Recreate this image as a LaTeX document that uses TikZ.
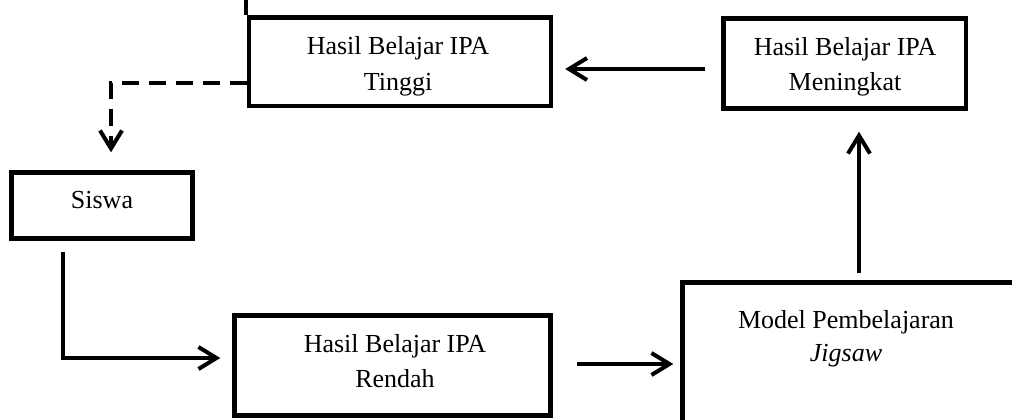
\documentclass[tikz,border=0pt]{standalone}
\usepackage{fontspec}
\setmainfont{Liberation Serif}
\usetikzlibrary{arrows.meta,calc}
\begin{document}
\begin{tikzpicture}[x=0.5pt,y=-0.5pt,
  box/.style={draw, line width=2.2pt, rectangle, inner sep=0pt},
  arr/.style={line width=2pt, -{Straight Barb[length=9pt,width=11pt]}},
  dasharr/.style={arr, dash pattern=on 8.5pt off 5pt},
  lbl/.style={font=\fontsize{13pt}{18pt}\selectfont, inner sep=0pt, anchor=base}]
\clip (0,0) rectangle (1012,419);
\fill[white] (0,0) rectangle (1012,419);
% boxes
\node[box, minimum width=151pt, minimum height=44.25pt] (tinggi) at (400,61.75) {};
\node[box, minimum width=121.25pt, minimum height=45pt] (meningkat) at (844.75,63.5) {};
\node[box, minimum width=90.5pt, minimum height=33pt] (siswa) at (102,205.5) {};
\node[box, minimum width=158pt, minimum height=50pt] (rendah) at (392.5,365.5) {};
\node[box, minimum width=178.75pt, minimum height=88.75pt] (model) at (861.25,371.25) {};
% labels
\node[lbl] (t1) at (398,54) {Hasil Belajar IPA};
\node[lbl] (t2) at (398,90) {Tinggi};
\node[lbl] (m1) at (845,55) {Hasil Belajar IPA};
\node[lbl] (m2) at (845,90) {Meningkat};
\node[lbl] (s1) at (102,208) {Siswa};
\node[lbl] (r1) at (395,352) {Hasil Belajar IPA};
\node[lbl] (r2) at (395,387) {Rendah};
\node[lbl] (p1) at (846,328) {Model Pembelajaran};
\node[lbl] (p2) at (846,361) {\itshape Jigsaw};
% helper coordinates
\coordinate (y1) at (0,69);
\coordinate (d1) at (111,83);
\coordinate (c2) at (63,358);
\coordinate (y4) at (0,364);
\coordinate (x5) at (859,0);
\coordinate (top) at (246,-5);
% connectors
\draw[arr, shorten <=8pt, shorten >=6pt] (meningkat.west |- y1) -- (tinggi.east |- y1);
\draw[dasharr, shorten >=9pt] (tinggi.west |- d1) -| (siswa.north -| d1);
\draw[arr, shorten <=5.5pt, shorten >=6pt] (siswa.south -| c2) |- (rendah.west |- c2);
\draw[arr, shorten <=12pt, shorten >=3.5pt] (rendah.east |- y4) -- (model.west |- y4);
\draw[arr, shorten <=3.5pt, shorten >=10.5pt] (model.north -| x5) -- (meningkat.south -| x5);
\draw[line width=2pt] (top) -- (tinggi.north west -| top);
\end{tikzpicture}
\end{document}
